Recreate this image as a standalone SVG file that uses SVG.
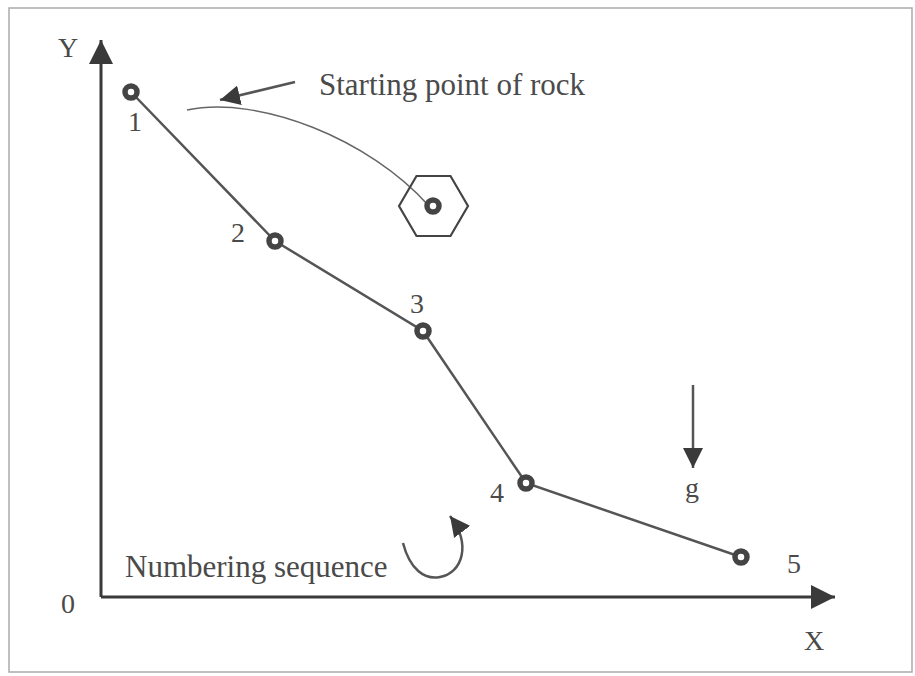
<svg xmlns="http://www.w3.org/2000/svg" width="915" height="676" viewBox="0 0 915 676">
<defs>
<style>
text{font-family:"Liberation Serif","Times New Roman",serif;fill:#4a4a4a}
.lbl{font-size:28px}
.big{font-size:31px}
.axis{stroke:#3a3a3a;stroke-width:3;fill:none}
.seg{stroke:#555;stroke-width:2.5;fill:none}
.pt{fill:#fff;stroke:#444;stroke-width:5.5}
.thin{stroke:#666;stroke-width:1.5;fill:none}
</style>
<marker id="big" viewBox="0 0 10 10" refX="10" refY="5" markerWidth="24" markerHeight="24" markerUnits="userSpaceOnUse" orient="auto">
<path d="M0,0 L10,5 L0,10 Z" fill="#3a3a3a"/>
</marker>
<marker id="mid" viewBox="0 0 10 10" refX="10" refY="5" markerWidth="20" markerHeight="20" markerUnits="userSpaceOnUse" orient="auto">
<path d="M0,0 L10,5 L0,10 Z" fill="#3a3a3a"/>
</marker>
</defs>
<rect x="0" y="0" width="915" height="676" fill="#fff"/>
<rect x="9" y="8" width="903" height="664" fill="none" stroke="#aaa" stroke-width="1.5"/>

<g id="axes">
<line class="axis" x1="101" y1="597" x2="101" y2="40" marker-end="url(#big)"/>
<line class="axis" x1="101" y1="597" x2="835" y2="597" marker-end="url(#big)"/>
<text class="lbl" x="58" y="57">Y</text>
<text class="lbl" x="804" y="650">X</text>
<text class="lbl" x="61" y="613">0</text>
</g>

<g id="connectors">
<polyline class="seg" points="131,92 275,241 423,331 526,483 741,557"/>
<path class="thin" d="M187,110 C260,95 370,140 428,205"/>
<line class="seg" x1="295" y1="82" x2="220" y2="100" marker-end="url(#mid)"/>
<line class="seg" x1="693" y1="385" x2="693" y2="468" marker-end="url(#mid)"/>
<path class="seg" d="M403,543 C410,570 425,580 440,577 C462,573 472,545 450,516" marker-end="url(#mid)"/>
</g>

<g id="node1"><circle class="pt" cx="131" cy="92" r="6"/><text class="lbl" x="128" y="131">1</text></g>
<g id="node2"><circle class="pt" cx="275" cy="241" r="6"/><text class="lbl" x="231" y="242">2</text></g>
<g id="node3"><circle class="pt" cx="423" cy="331" r="6"/><text class="lbl" x="410" y="313">3</text></g>
<g id="node4"><circle class="pt" cx="526" cy="483" r="6"/><text class="lbl" x="490" y="502">4</text></g>
<g id="node5"><circle class="pt" cx="741" cy="557" r="6"/><text class="lbl" x="787" y="573">5</text></g>

<g id="rock">
<polygon points="399,206 416.5,176 450.5,176 468,206 450.5,236 416.5,236" fill="none" stroke="#444" stroke-width="2.2"/>
<circle class="pt" cx="433" cy="206" r="6" stroke-width="4"/>
</g>

<g id="labels">
<text class="big" x="319" y="95">Starting point of rock</text>
<text class="big" x="125" y="577">Numbering sequence</text>
<text class="lbl" x="685" y="497">g</text>
</g>
</svg>
